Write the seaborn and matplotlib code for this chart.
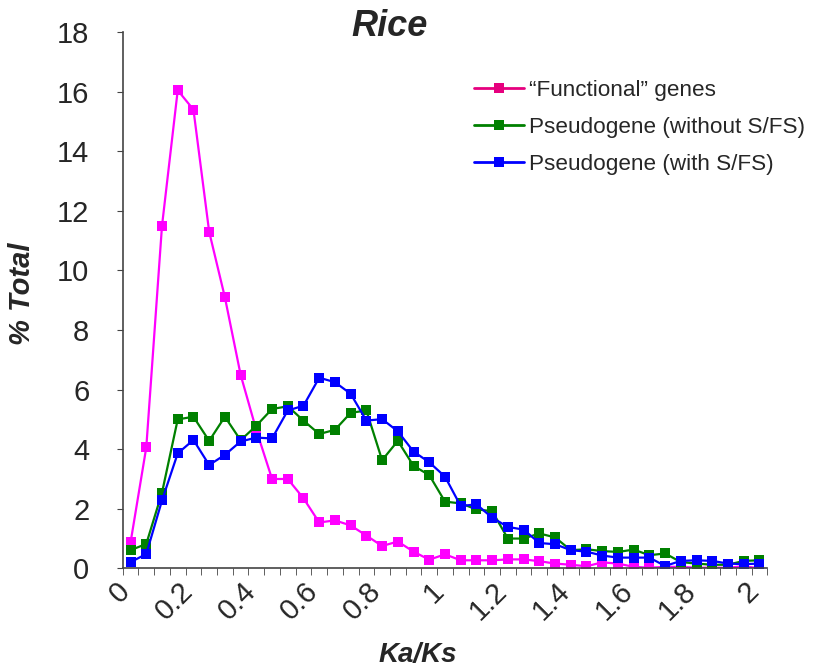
import numpy as np
import pandas as pd
import matplotlib
matplotlib.use("Agg")
import matplotlib.pyplot as plt
import matplotlib.transforms as mtransforms
from matplotlib.ticker import FixedLocator
import seaborn as sns

# Ka/Ks categories, 0 to 2 in steps of 0.05
ka_ks = [round(0.05 * i, 2) for i in range(41)]

functional = [0.87, 4.06, 11.5, 16.05, 15.4, 11.3, 9.1, 6.5, 4.64, 3.0,
              3.0, 2.35, 1.54, 1.61, 1.44, 1.1, 0.75, 0.9, 0.56, 0.29,
              0.47, 0.27, 0.27, 0.27, 0.3, 0.3, 0.24, 0.16, 0.12, 0.07,
              0.2, 0.16, 0.05, 0.02, 0.05, 0.05, 0.02, 0.02, 0.02, 0.07,
              0.0]
pseudo_no_sfs = [0.61, 0.82, 2.54, 5.0, 5.09, 4.28, 5.09, 4.3, 4.79, 5.35,
                 5.44, 4.96, 4.51, 4.65, 5.22, 5.3, 3.63, 4.28, 3.44, 3.13,
                 2.24, 2.18, 1.98, 1.92, 1.0, 1.0, 1.17, 1.04, 0.61, 0.64,
                 0.58, 0.55, 0.63, 0.44, 0.5, 0.21, 0.16, 0.12, 0.12, 0.25,
                 0.27]
pseudo_sfs = [0.21, 0.48, 2.28, 3.86, 4.31, 3.47, 3.81, 4.26, 4.39, 4.36,
              5.3, 5.46, 6.4, 6.25, 5.86, 4.96, 5.01, 4.6, 3.92, 3.56,
              3.08, 2.09, 2.15, 1.7, 1.39, 1.3, 0.85, 0.81, 0.61, 0.56,
              0.43, 0.36, 0.36, 0.36, 0.08, 0.25, 0.27, 0.25, 0.16, 0.14,
              0.16]

series_names = ["\u201cFunctional\u201d genes", "Pseudogene (without S/FS)",
                "Pseudogene (with S/FS)"]
colors = ["#FF00FF", "#008000", "#0000FF"]
legend_colors = ["#E6007E", "#008000", "#0000FF"]

sns.set_style("white")
plt.rcParams['font.family'] = ['Liberation Sans', 'DejaVu Sans']

frames = []
for name, vals in zip(series_names, [functional, pseudo_no_sfs, pseudo_sfs]):
    frames.append(pd.DataFrame({"pos": np.arange(len(ka_ks)), "val": vals,
                                "series": name}))
df = pd.concat(frames)

fig = plt.figure(figsize=(8.18, 6.71), dpi=100)
ax = fig.add_axes([0.150, 0.153, 0.788, 0.799])

sns.lineplot(data=df, x="pos", y="val", hue="series", style="series",
             markers=["s", "s", "s"], dashes=False, palette=colors,
             linewidth=1.6, markersize=7.3, markeredgewidth=0, ax=ax)

ax.set_xlim(-0.5, len(ka_ks) - 0.5)
ax.set_ylim(0, 18)
ax.set_yticks(np.arange(0, 19, 2))
ax.tick_params(axis="y", labelsize=21, length=4, direction="out", left=True,
               color="#444444", pad=20)

label_pos = list(range(0, 41, 4))
ax.set_xticks(label_pos)
ax.set_xticklabels([f"{ka_ks[i]:g}" for i in label_pos], rotation=45,
                   ha="right", rotation_mode="anchor", fontsize=21)
ax.tick_params(axis="x", which="major", length=0, pad=9)
# nudge the rotated labels a little to the left, like the original
shift = mtransforms.ScaledTranslation(-0.15, 0.04, fig.dpi_scale_trans)
for lab in ax.get_xticklabels():
    lab.set_transform(lab.get_transform() + shift)
ax.xaxis.set_minor_locator(FixedLocator(np.arange(-0.5, 41, 1)))
ax.tick_params(axis="x", which="minor", length=5, bottom=True,
               direction="out", color="#444444")

for s in ["top", "right"]:
    ax.spines[s].set_visible(False)
for s in ["left", "bottom"]:
    ax.spines[s].set_color("#444444")
    ax.spines[s].set_linewidth(1.2)

fig.text(390 / 818, 1 - 36 / 671, "Rice", fontsize=26, fontweight="bold",
         fontstyle="italic", ha="center", va="baseline")
ax.set_ylabel("% Total", fontsize=21, fontweight="bold", fontstyle="italic")
ax.yaxis.set_label_coords(-0.134, 0.512)
ax.set_xlabel("Ka/Ks", fontsize=20, fontweight="bold", fontstyle="italic")
ax.xaxis.set_label_coords(0.458, -0.138)

leg = ax.legend(loc="upper left", bbox_to_anchor=(0.555, 0.9105),
                bbox_transform=fig.transFigure, frameon=False,
                fontsize=16.2, handlelength=2.2, handletextpad=0.22,
                labelspacing=0.71)
for h, c in zip(leg.legend_handles, legend_colors):
    h.set_markersize(7.5)
    h.set_linewidth(2)
    h.set_color(c)

fig.savefig("out.png", dpi=100)
